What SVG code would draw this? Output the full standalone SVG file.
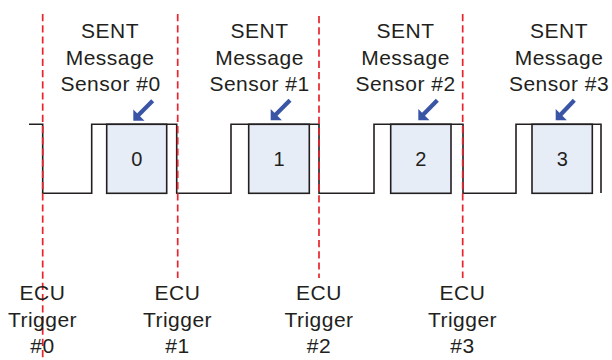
<svg xmlns="http://www.w3.org/2000/svg" width="612" height="360" viewBox="0 0 612 360">
<style>
.t{font-family:"Liberation Sans",Arial,sans-serif;font-size:21px;fill:#231f20;text-anchor:middle;letter-spacing:0.5px}
.d{font-family:"Liberation Sans",Arial,sans-serif;font-size:20px;fill:#231f20;text-anchor:middle}
.box{fill:#e6edf7;stroke:#231f20;stroke-width:1.6}
.wave{fill:none;stroke:#231f20;stroke-width:1.6}
.trig{fill:none;stroke:#e8242c;stroke-width:1.7;stroke-dasharray:7.2 4}
.arr{fill:none;stroke:#3a55a5;stroke-width:4.2}
.head{fill:#3a55a5}
</style>
<rect width="612" height="360" fill="#ffffff"/>
<g id="connectors">
<path id="waveform" class="wave" d="M29,124.3 H42.7 V193.3 H91.7 V124.3 H176.7 V193.3 H231 V124.3 H319 V193.3 H374 V124.3 H463 V193.3 H516 V124.3 H601 V193"/>
<line class="trig" x1="42.7" y1="14" x2="42.7" y2="360"/>
<line class="trig" x1="177.7" y1="14" x2="177.7" y2="278"/>
<line class="trig" x1="319" y1="16" x2="319" y2="278"/>
<line class="trig" x1="462.7" y1="14" x2="462.7" y2="278"/>
</g>
<g id="sensor0">
<text class="t" x="110" y="38">SENT</text>
<text class="t" x="110" y="64.5">Message</text>
<text class="t" x="110.5" y="91">Sensor #0</text>
<path class="arr" d="M152.7,100.7 L137.5,116"/>
<path class="head" d="M133.3,109.5 V120.7 H144.5 Z"/>
<rect class="box" x="106.7" y="124.3" width="60" height="69"/>
<text class="d" x="136.7" y="166">0</text>
</g>
<g id="sensor1">
<text class="t" x="259.5" y="38">SENT</text>
<text class="t" x="259.5" y="64.5">Message</text>
<text class="t" x="259.5" y="91">Sensor #1</text>
<path class="arr" d="M290,100.3 L274.8,115.5"/>
<path class="head" d="M270.7,109 V120.3 H281.9 Z"/>
<rect class="box" x="248.7" y="124.3" width="60.6" height="69"/>
<text class="d" x="279" y="166">1</text>
</g>
<g id="sensor2">
<text class="t" x="405.5" y="38">SENT</text>
<text class="t" x="405.5" y="64.5">Message</text>
<text class="t" x="405.5" y="91">Sensor #2</text>
<path class="arr" d="M437.3,100.3 L422.3,115.5"/>
<path class="head" d="M418.3,109 V120.3 H429.5 Z"/>
<rect class="box" x="390.7" y="124.3" width="60.3" height="69"/>
<text class="d" x="420.8" y="166">2</text>
</g>
<g id="sensor3">
<text class="t" x="559" y="38">SENT</text>
<text class="t" x="559" y="64.5">Message</text>
<text class="t" x="559" y="91">Sensor #3</text>
<path class="arr" d="M574.3,100.3 L559.8,115.5"/>
<path class="head" d="M555.7,109 V120.3 H566.9 Z"/>
<rect class="box" x="532" y="124.3" width="60.3" height="69"/>
<text class="d" x="562.2" y="166">3</text>
</g>
<g id="trigger0">
<text class="t" x="42.5" y="300">ECU</text>
<text class="t" x="42.5" y="326.7">Trigger</text>
<text class="t" x="42.5" y="353.3">#0</text>
</g>
<g id="trigger1">
<text class="t" x="177.5" y="300">ECU</text>
<text class="t" x="177.5" y="326.7">Trigger</text>
<text class="t" x="177.5" y="353.3">#1</text>
</g>
<g id="trigger2">
<text class="t" x="319" y="300">ECU</text>
<text class="t" x="319" y="326.7">Trigger</text>
<text class="t" x="319" y="353.3">#2</text>
</g>
<g id="trigger3">
<text class="t" x="462.5" y="300">ECU</text>
<text class="t" x="462.5" y="326.7">Trigger</text>
<text class="t" x="462.5" y="353.3">#3</text>
</g>
</svg>
